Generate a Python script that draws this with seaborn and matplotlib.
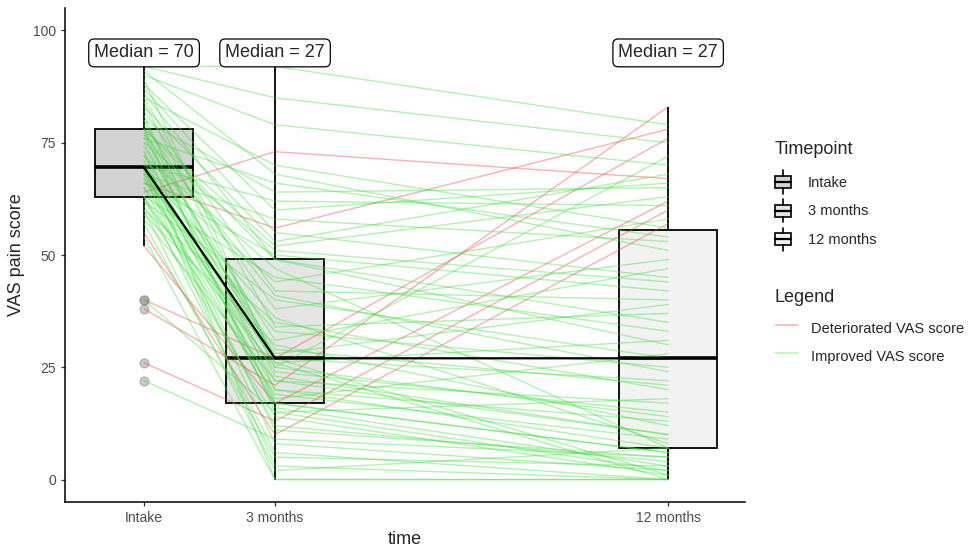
import matplotlib
matplotlib.use("Agg")
import matplotlib.pyplot as plt
import numpy as np
import pandas as pd
import seaborn as sns
from matplotlib.patches import Patch, Rectangle
from matplotlib.lines import Line2D
from matplotlib.legend_handler import HandlerBase

# ---------------- data ----------------
timepoints = ["Intake", "3 months", "12 months"]
months = [0, 3, 12]

intake = [22, 26, 38, 40, 40, 52, 54, 55, 57, 58,
          59, 60, 60, 61, 62, 62, 63, 63, 63, 64,
          65, 65, 66, 66, 67, 67, 68, 68, 68, 69,
          69, 69, 69, 69, 69, 70, 70, 71, 72, 72,
          73, 73, 74, 75, 75, 76, 76, 77, 77, 78,
          78, 78, 78, 79, 80, 80, 81, 82, 83, 84,
          85, 85, 86, 87, 88, 89, 90, 91, 92, 92]
m3 = [9, 13, 21, 27, 15, 17, 0, 10, 5, 22,
      30, 2, 35, 14, 25, 40, 6, 19, 45, 73,
      12, 27, 50, 56, 17, 33, 3, 24, 58, 8,
      20, 26, 36, 44, 11, 22, 62, 16, 28, 47,
      0, 18, 29, 51, 23, 31, 66, 41, 17, 49,
      27, 52, 15, 38, 25, 64, 20, 42, 53, 27,
      34, 70, 49, 55, 60, 26, 79, 68, 85, 92]
m12 = [5, 60, 83, 76, 2, 62, 0, 57, 3, 10,
       12, 7, 20, 1, 14, 27, 0, 9, 33, 67,
       4, 22, 42, 78, 6, 25, 0, 15, 53, 2,
       13, 31, 8, 58, 5, 17, 61, 3, 39, 7,
       0, 28, 21, 44, 10, 47, 54, 24, 6, 35,
       1, 63, 18, 49, 72, 65, 7, 40, 68, 27,
       37, 56, 30, 45, 66, 0, 70, 51, 75, 79]

box_fills = ["#d3d3d3", "#e5e5e5", "#f2f2f2"]
status_labels = ["Deteriorated VAS score", "Improved VAS score"]
line_colors = ["#f03c3c", "#3ce03c"]

# ---------------- style ----------------
sns.set_style("ticks")
plt.rcParams["font.family"] = ["Liberation Sans", "DejaVu Sans"]

rows = []
for pid, vals in enumerate(zip(intake, m3, m12)):
    status = status_labels[0] if vals[2] > vals[0] else status_labels[1]
    for t, tp, v in zip(months, timepoints, vals):
        rows.append(dict(patient=pid, time=t, Timepoint=tp, vas=v, status=status))
df = pd.DataFrame(rows)

fig = plt.figure(figsize=(9.7, 5.48), dpi=100)
ax = fig.add_axes([65 / 970, 46 / 548, 680 / 970, 494 / 548])

sns.boxplot(
    data=df, x="time", y="vas", hue="Timepoint", hue_order=timepoints,
    palette=dict(zip(timepoints, box_fills)), native_scale=True, dodge=False,
    width=0.75, linecolor="black", linewidth=1.3, showcaps=False,
    flierprops=dict(marker="o", markerfacecolor="#8a8a8a",
                    markeredgecolor="#8a8a8a", alpha=0.45, markersize=6.5),
    medianprops=dict(linewidth=2.6), legend=False, ax=ax, zorder=1,
)

sns.lineplot(
    data=df, x="time", y="vas", units="patient", estimator=None,
    hue="status", hue_order=status_labels,
    palette=dict(zip(status_labels, line_colors)), alpha=0.4,
    linewidth=1.0, legend=False, ax=ax, zorder=2,
)
sns.lineplot(data=df, x="time", y="vas", estimator="median", errorbar=None,
             color="black", linewidth=1.6, ax=ax, zorder=3)

meds = df.groupby("time")["vas"].median()
for t in months:
    ax.text(t, 95, f"Median = {int(round(meds[t]))}", ha="center", va="center",
            fontsize=13, zorder=5,
            bbox=dict(boxstyle="round,pad=0.3,rounding_size=0.3",
                      fc="white", ec="black", lw=0.9))

ax.set_xlim(-1.81, 13.76)
ax.set_ylim(-5, 105)
ax.set_xticks(months, timepoints)
ax.set_yticks([0, 25, 50, 75, 100])
ax.tick_params(axis="both", labelsize=10, labelcolor="#4d4d4d",
               length=3, width=0.9, color="#333333")
ax.set_xlabel("time", fontsize=13)
ax.set_ylabel("VAS pain score", fontsize=13, labelpad=6)
for s in ["top", "right"]:
    ax.spines[s].set_visible(False)
for s in ["left", "bottom"]:
    ax.spines[s].set_linewidth(1.1)
    ax.spines[s].set_color("black")


class BoxHandler(HandlerBase):
    def create_artists(self, legend, orig_handle, xdescent, ydescent,
                       width, height, fontsize, trans):
        x0, y0 = -xdescent, -ydescent
        bw, bh = width * 0.95, height * 0.52
        cx, cy = x0 + width / 2, y0 + height / 2
        rect = Rectangle((cx - bw / 2, cy - bh / 2), bw, bh,
                         facecolor=orig_handle.get_facecolor(),
                         edgecolor="black", lw=1.2, transform=trans)
        med = Line2D([cx - bw / 2, cx + bw / 2], [cy, cy], color="black",
                     lw=1.6, transform=trans)
        w1 = Line2D([cx, cx], [y0, cy - bh / 2], color="black", lw=1.2,
                    transform=trans)
        w2 = Line2D([cx, cx], [cy + bh / 2, y0 + height], color="black",
                    lw=1.2, transform=trans)
        return [rect, med, w1, w2]


box_handles = [Patch(facecolor=c) for c in box_fills]
leg1 = fig.legend(handles=box_handles, labels=timepoints, title="Timepoint",
                  handler_map={Patch: BoxHandler()}, loc="upper left",
                  bbox_to_anchor=(775 / 970, 1 - 141 / 548), frameon=False,
                  fontsize=10.5, title_fontsize=13, alignment="left",
                  handlelength=1.1, handleheight=2.06, labelspacing=0.38,
                  handletextpad=1.15, borderpad=0, borderaxespad=0)
leg1._legend_box.sep += 5

line_handles = [Line2D([0], [0], color=c, alpha=0.4, lw=1.1) for c in line_colors]
leg2 = fig.legend(handles=line_handles, labels=status_labels, title="Legend",
                  loc="upper left", bbox_to_anchor=(775 / 970, 1 - 289 / 548),
                  frameon=False, fontsize=10.5, title_fontsize=13,
                  alignment="left", handlelength=1.6, handleheight=2.06,
                  labelspacing=0.3, handletextpad=0.85, borderpad=0,
                  borderaxespad=0)
leg2._legend_box.sep += 5

fig.savefig("out.png", dpi=100)
